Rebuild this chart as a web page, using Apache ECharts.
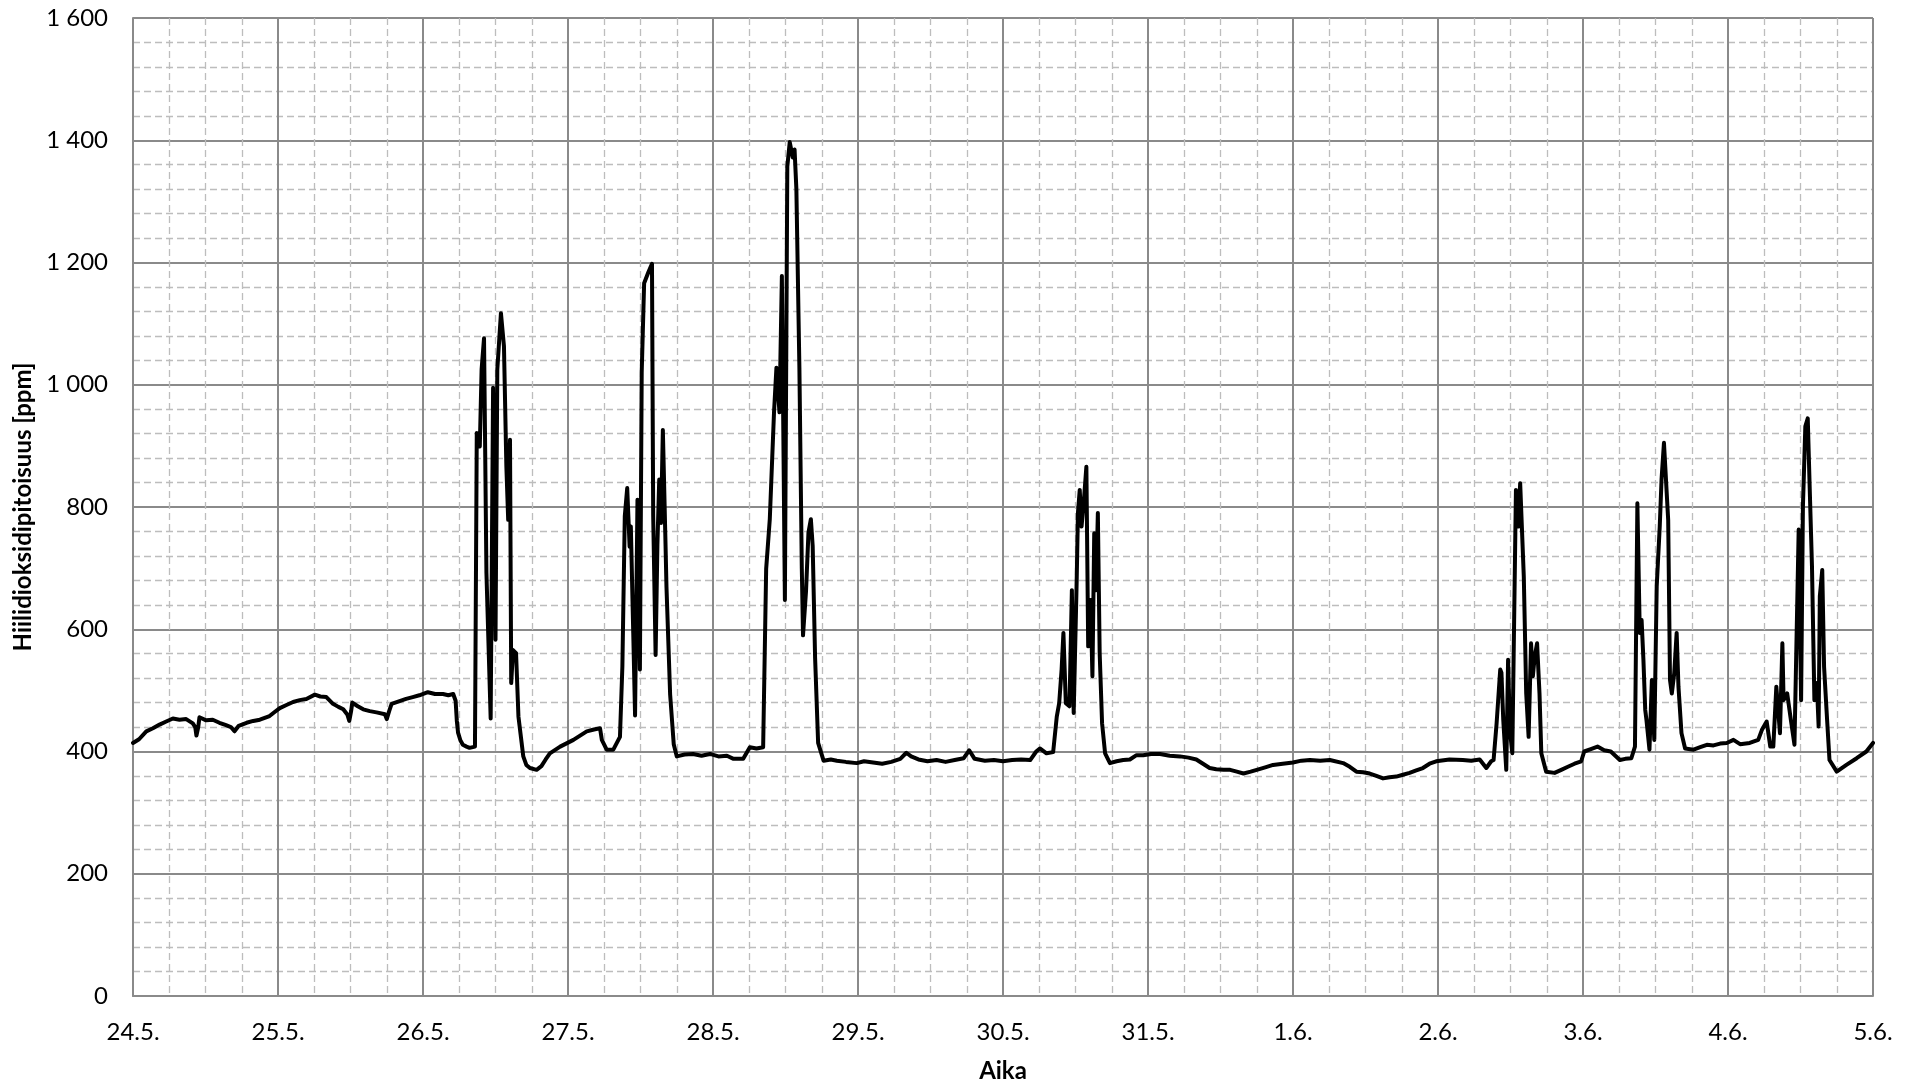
<!DOCTYPE html>
<html>
<head>
<meta charset="utf-8">
<title>Hiilidioksidipitoisuus</title>
<script src="https://cdn.jsdelivr.net/npm/echarts@6/dist/echarts.min.js"></script>
<style>
  html, body { margin: 0; padding: 0; background: #fff; }
  #chart { width: 1914px; height: 1085px; }
</style>
</head>
<body>
<div id="chart"></div>
<script>
// Day labels shown at each midnight (x = hours since 24.5. 00:00)
const dayLabels = ['24.5.', '25.5.', '26.5.', '27.5.', '28.5.', '29.5.', '30.5.',
                   '31.5.', '1.6.', '2.6.', '3.6.', '4.6.', '5.6.'];

// Measurement times, hours since 24.5. 00:00
const hours = [
  0, 1, 2.2, 3.3, 4.4, 5.5, 6.6, 7.7, 8.8, 9.9, 10.3, 10.5, 10.8, 11.0, 12.1, 13.2, 14.3, 15.4, 16.2, 16.8,
  17.5, 18.8, 19.9, 21, 22.6, 23.5, 24.3, 25.4, 26.5, 27.6, 28.7, 30.1, 31, 32, 33.1, 34.0, 34.8, 35.5, 35.8, 36.1,
  36.3, 37.2, 38.1, 39.2, 40.3, 41.7, 42.0, 42.4, 42.8, 44.0, 45.2, 46.3, 47.4, 48.8, 50.0, 51.3, 52.2, 53.0, 53.4, 53.6,
  53.8, 54.2, 54.6, 55.2, 55.7, 56.6,
  56.9, 57.4, 57.7, 58.1, 58.5, 59.2, 59.6, 60.0, 60.3, 60.9, 61.4, 61.8, 62.1, 62.4, 62.6, 62.9, 63.4, 63.8, 64.6, 65.1,
  65.7, 66.8, 67.6, 68.3, 69.0, 70.7, 72.9, 75.1, 76.3, 77.3, 77.6, 78.4, 79.5, 80.6, 81.0, 81.4, 81.8, 82.2, 82.4, 82.8,
  83.1, 83.5, 83.9, 84.2, 84.6, 85.3, 85.9, 86.1, 86.5, 86.8, 87.1, 87.4, 87.7, 88.1, 88.3, 88.9, 89.5, 90.0, 91.3, 92.7,
  94.1, 95.5, 96.9, 98.3, 99.4, 101.0, 102.1, 103.2, 104.3, 104.8, 105.4, 106.1, 106.5, 107.0, 107.4, 107.9, 108.3, 108.7, 109.2, 109.5,
  109.8, 110.3, 110.7, 110.9, 111.4, 111.8, 112.2, 112.5, 112.9, 113.4, 114.3, 115.5, 116.5, 118.0, 119.8, 121, 122.5, 124, 125.5, 127,
  128, 128.8, 130, 131.5, 133, 134.5, 136, 137.5, 138.4, 139.3, 141, 142.5, 144, 145.5, 147, 148.5, 149.5, 150.1, 151.2, 152.3,
  152.9, 153.3, 153.7, 154.0, 154.4, 155.0, 155.4, 155.7, 156.2, 156.4, 156.7, 157.0, 157.4, 157.8, 158.1, 158.5, 158.8, 159.1, 159.4, 159.7,
  160.0, 160.4, 160.9, 161.7, 162.8, 163.9, 165.0, 166.1, 167.2, 168.5, 170.0, 171.6, 173.3, 174.7, 176.0, 177.1, 178.2, 179.3, 180.5, 181.6,
  182.7, 183.8, 185.0, 186.0, 187.4, 188.7, 190.3, 192.0, 193.4, 194.8, 196.5, 198.1, 200.3, 201.4, 202.5, 203.6, 204.7, 205.8, 206.9, 208.0,
  209.1, 210.2, 211.3, 212.4, 213.5, 214.6, 215.7, 217.9, 220.1, 221.5, 222.9, 224.0, 224.8, 225.2, 225.7, 226.3, 226.5, 226.8, 227.3, 227.6,
  227.9, 228.3, 228.8, 228.9, 229.3, 229.6, 229.9, 230.2, 230.6, 231.0, 231.4, 231.7, 232.0, 232.4, 232.8, 233.1, 233.9, 235.3, 236.4, 237.5,
  238.6, 239.7, 240.2, 241.3, 242.4, 243.5, 244.6, 246.1, 247.0, 248.0, 248.6, 249.0, 249.4, 249.7, 250.0, 250.3, 250.5, 251.0, 251.4, 251.8,
  252.2, 252.7, 253.0, 253.4, 253.7, 254.1, 254.4, 254.7, 255.1, 255.5, 255.8, 256.3, 256.9, 258.3, 259.4, 260.5, 261.6, 262.7, 263.8, 264.9,
  266.0, 267.6, 269.0, 269.6, 270.4, 271.0, 271.5, 272.0, 272.6, 273.0, 273.2, 273.8, 274.4, 275.0, 275.3, 275.7, 276.1, 276.4, 276.8, 277.2,
  277.5, 277.9, 278.3, 278.7, 279.0, 279.2, 279.6, 279.9, 280.4, 280.8, 282.0, 283.6, 285.3, 286.9, 288.0
];

// CO2 concentration [ppm] at each time above
const ppm = [
  414, 420, 433, 438, 444, 449, 454, 452, 453, 446, 440, 426, 440, 456, 451, 452, 447, 443, 440, 433,
  442, 447, 450, 452, 458, 465, 471, 476, 481, 484, 486, 493, 490, 489, 478, 473, 469, 460, 450, 466,
  480, 474, 469, 466, 464, 461, 453, 466, 478, 482, 486, 489, 492, 497, 494, 494, 492, 494, 483, 450,
  431, 418, 411, 408, 406, 408,
  921, 899, 1025, 1076, 692, 454, 995, 583, 1025, 1117, 1063, 866, 779, 910, 512, 566, 561, 457, 392, 378,
  373, 370, 376, 387, 397, 408, 419, 433, 436, 438, 419, 403, 403, 424, 539, 785, 831, 735, 768, 594,
  459, 812, 534, 1020, 1166, 1184, 1198, 786, 558, 739, 845, 774, 926, 757, 669, 494, 412, 392, 395, 396,
  393, 396, 392, 393, 388, 388, 407, 405, 407, 699, 780, 955, 1028, 955, 1178, 648, 1357, 1397, 1372, 1385,
  1320, 1028, 699, 590, 663, 758, 780, 736, 553, 414, 385, 387, 385, 383, 381, 384, 382, 380, 383, 388,
  398, 392, 387, 384, 386, 383, 386, 389, 402, 388, 385, 386, 384, 386, 387, 386, 400, 405, 397, 399,
  457, 479, 534, 594, 479, 474, 664, 463, 681, 790, 828, 768, 812, 866, 572, 648, 523, 757, 664, 790,
  561, 446, 397, 381, 384, 386, 387, 394, 394, 396, 396, 393, 392, 390, 387, 380, 373, 371, 370, 370,
  367, 364, 367, 370, 374, 378, 380, 382, 385, 386, 385, 386, 381, 375, 367, 366, 364, 360, 356, 358,
  359, 362, 365, 369, 373, 380, 384, 387, 386, 385, 387, 373, 384, 386, 446, 534, 529, 452, 370, 550,
  435, 397, 757, 828, 768, 839, 840, 686, 495, 424, 577, 523, 555, 577, 495, 397, 367, 365, 370, 375,
  380, 384, 400, 404, 408, 402, 400, 386, 388, 389, 408, 806, 594, 615, 550, 468, 452, 403, 517, 419,
  670, 768, 845, 905, 906, 779, 517, 495, 528, 594, 506, 430, 405, 403, 407, 411, 410, 413, 414, 419,
  412, 414, 419, 435, 449, 408, 408, 506, 430, 577, 484, 495, 452, 411, 408, 763, 484, 801, 932, 945,
  839, 703, 484, 512, 441, 654, 697, 539, 452, 386, 367, 378, 389, 400, 414
];

const FONT = 'Lato, "Open Sans", sans-serif';
const majorLine = { color: '#8a8a8a', width: 2, type: 'solid' };
const minorLine = { color: '#bdbdbd', width: 1.3, type: [7, 4] };

const chart = echarts.init(document.getElementById('chart'), null, { renderer: 'canvas' });

chart.setOption({
  animation: false,
  backgroundColor: '#ffffff',
  grid: { left: 133, right: 41, top: 18, bottom: 89, containLabel: false, outerBoundsMode: 'none' },
  xAxis: {
    type: 'value',
    min: 0,
    max: 288,
    interval: 24,
    name: 'Aika',
    nameLocation: 'middle',
    nameGap: 63,
    nameTextStyle: { fontFamily: FONT, fontSize: 24, fontWeight: 'bold', color: '#000' },
    axisLine: { show: true, lineStyle: majorLine },
    axisTick: { show: false },
    minorTick: { show: true, splitNumber: 4, length: 0 },
    axisLabel: {
      fontFamily: FONT, fontSize: 24, color: '#000', margin: 24,
      formatter: v => dayLabels[Math.round(v / 24)]
    },
    splitLine: { show: true, lineStyle: majorLine },
    minorSplitLine: { show: true, lineStyle: minorLine }
  },
  yAxis: {
    type: 'value',
    min: 0,
    max: 1600,
    interval: 200,
    name: 'Hiilidioksidipitoisuus [ppm]',
    nameLocation: 'middle',
    nameGap: 97,
    nameTextStyle: { fontFamily: FONT, fontSize: 24, fontWeight: 'bold', color: '#000' },
    axisLine: { show: true, lineStyle: majorLine },
    axisTick: { show: false },
    minorTick: { show: true, splitNumber: 5, length: 0 },
    axisLabel: {
      fontFamily: FONT, fontSize: 24, color: '#000', margin: 25,
      formatter: v => String(v).replace(/\B(?=(\d{3})+(?!\d))/g, ' ')
    },
    splitLine: { show: true, lineStyle: majorLine },
    minorSplitLine: { show: true, lineStyle: minorLine }
  },
  series: [{
    type: 'line',
    data: hours.map((h, i) => [h, ppm[i]]),
    showSymbol: false,
    symbol: 'none',
    lineStyle: { color: '#000', width: 4, join: 'round', cap: 'round' },
    z: 5
  }]
});
</script>
</body>
</html>
